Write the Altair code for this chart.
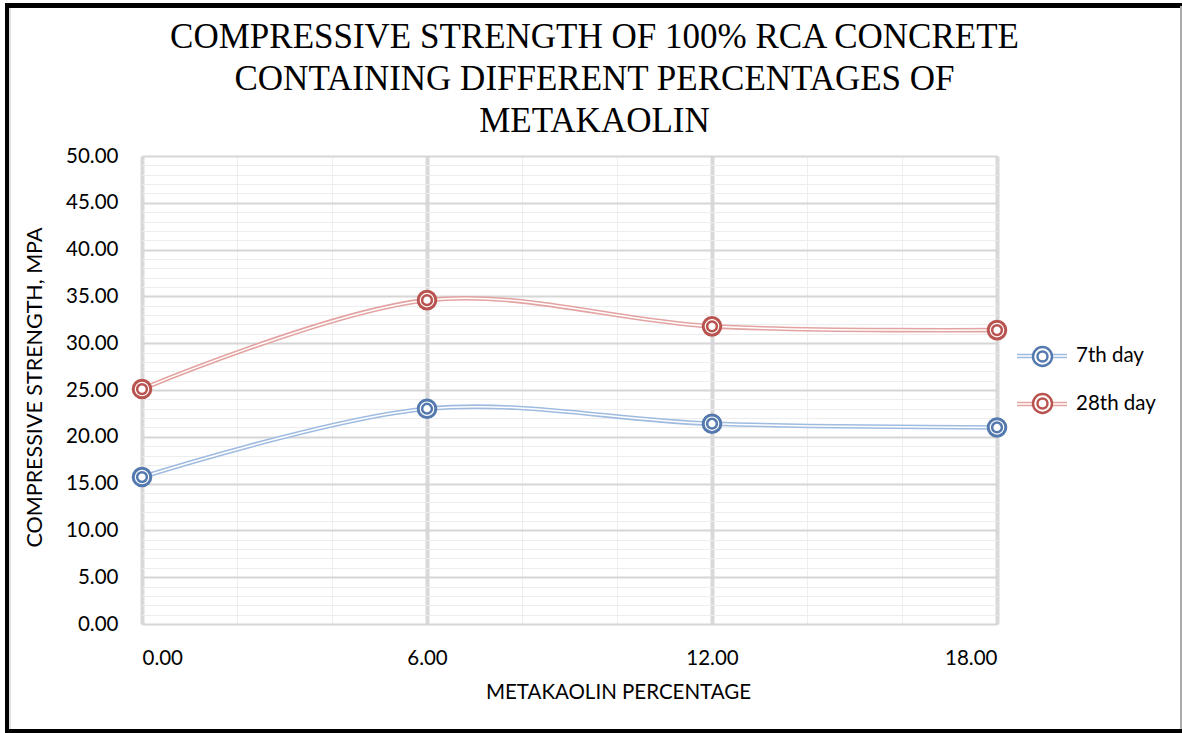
import altair as alt
import pandas as pd

# Metakaolin replacement levels (%) and measured compressive strengths (MPa)
metakaolin_pct = [0.0, 6.0, 12.0, 18.0]
strength_7th = [15.7, 23.0, 21.4, 21.0]
strength_28th = [25.1, 34.6, 31.8, 31.4]
series_names = ["7th day", "28th day"]

line_colors = ["#9FBBE0", "#E3A3A1"]
marker_colors = ["#5479AE", "#B9534F"]

rows = []
for name, vals in zip(series_names, [strength_7th, strength_28th]):
    for x, y in zip(metakaolin_pct, vals):
        rows.append({"pct": x, "strength": y, "series": name, "series_mk": name})
df = pd.DataFrame(rows)

W, H = 855, 468
FONT = "Lato"

x_enc = alt.X(
    "pct:Q",
    scale=alt.Scale(domain=[0, 18], nice=False),
    axis=alt.Axis(
        values=list(range(0, 19, 2)),
        tickCount=40,
        labelExpr="datum.value % 6 === 0 ? format(datum.value, '.2f') : ''",
        labelOverlap=False,
        ticks=False,
        domain=False,
        gridColor="#D9D9D9",
        gridWidth={"condition": {"test": "datum.value % 6 === 0", "value": 4}, "value": 1},
        gridOpacity={"condition": {"test": "datum.value % 6 === 0", "value": 1}, "value": 0.45},
        labelFont=FONT, labelFontSize=20.5, labelColor="#000000", labelPadding=24,
        title="METAKAOLIN PERCENTAGE", titleFont=FONT, titleFontSize=20.5,
        titleFontWeight="normal", titleColor="#000000",
        titleX=476, titleY=68, titleAnchor="start", titleAlign="center",
        titleBaseline="middle",
    ),
)
y_enc = alt.Y(
    "strength:Q",
    scale=alt.Scale(domain=[0, 50], nice=False),
    axis=alt.Axis(
        values=list(range(0, 51, 1)),
        tickCount=100,
        labelExpr="datum.value % 5 === 0 ? format(datum.value, '.2f') : ''",
        labelOverlap=False,
        ticks=False,
        domain=False,
        gridColor={"condition": {"test": "datum.value % 5 === 0", "value": "#D6D6D6"}, "value": "#EDEDED"},
        gridWidth={"condition": {"test": "datum.value % 5 === 0", "value": 1.8}, "value": 1.1},
        labelFont=FONT, labelFontSize=20.5, labelColor="#000000", labelPadding=24,
        title="COMPRESSIVE STRENGTH, MPA", titleFont=FONT, titleFontSize=21.5,
        titleFontWeight="normal", titleColor="#000000",
        titleX=-107, titleY=231, titleAngle=270, titleAnchor="start",
        titleAlign="center", titleBaseline="middle",
    ),
)

line_scale = alt.Scale(domain=series_names, range=line_colors)
mk_scale = alt.Scale(domain=series_names, range=marker_colors)

LEG_X, LEG_Y = 874, 174
line_symbol = "M-1,-0.06H1M-1,0.06H1"
ring_symbol = ("M-0.38,0A0.38,0.38 0 1,1 0.38,0A0.38,0.38 0 1,1 -0.38,0Z"
               "M-0.2,0A0.2,0.2 0 1,1 0.2,0A0.2,0.2 0 1,1 -0.2,0Z")

base = alt.Chart(df)

# double line: a wide coloured stroke with a thin white core
outer = base.mark_line(interpolate="catmull-rom", strokeWidth=4.6).encode(
    x=x_enc, y=y_enc,
    color=alt.Color("series:N", scale=line_scale, sort=series_names,
                    legend=alt.Legend(
                        title=None, orient="none", legendX=LEG_X, legendY=LEG_Y,
                        symbolType=line_symbol, symbolSize=2500, symbolStrokeWidth=1.5,
                        labelFont=FONT, labelFontSize=20.5, labelColor="#000000",
                        labelOffset=8, rowPadding=11, direction="vertical")),
    detail="series:N",
)
core = base.mark_line(interpolate="catmull-rom", strokeWidth=1.5, color="white").encode(
    x="pct:Q", y="strength:Q", detail="series:N",
)

# double-ring markers
ring_outer = base.mark_point(shape="circle", size=310, strokeWidth=3, fill="white",
                             fillOpacity=1, filled=False, opacity=1).encode(
    x="pct:Q", y="strength:Q",
    stroke=alt.Stroke("series_mk:N", scale=mk_scale, sort=series_names,
                      legend=alt.Legend(
                          title=None, orient="none", legendX=LEG_X, legendY=LEG_Y,
                          symbolType=ring_symbol, symbolSize=2500, symbolStrokeWidth=2.4,
                          symbolFillColor="white",
                          labelFont=FONT, labelFontSize=20.5, labelOpacity=0,
                          labelOffset=8, rowPadding=6, direction="vertical")),
)
ring_inner = base.mark_point(shape="circle", size=95, strokeWidth=2.5, filled=False,
                             opacity=1).encode(
    x="pct:Q", y="strength:Q",
    stroke=alt.Stroke("series_mk:N", scale=mk_scale, legend=None),
)

# outer frame of the chart
one = pd.DataFrame({"k": [0]})
frame_left = alt.Chart(one).mark_rule(color="#000000", strokeWidth=4).encode(
    x=alt.value(-135), y=alt.value(-153), y2=alt.value(577))
frame_left_in = alt.Chart(one).mark_rule(color="#BFBFBF", strokeWidth=1).encode(
    x=alt.value(-132), y=alt.value(-150), y2=alt.value(573))
frame_top = alt.Chart(one).mark_rule(color="#000000", strokeWidth=5).encode(
    x=alt.value(-137), x2=alt.value(1040), y=alt.value(-150.5))
frame_bottom = alt.Chart(one).mark_rule(color="#000000", strokeWidth=4).encode(
    x=alt.value(-137), x2=alt.value(1040), y=alt.value(575))
frame_right = alt.Chart(one).mark_rule(color="#ABABAB", strokeWidth=2).encode(
    x=alt.value(1039), y=alt.value(-150), y2=alt.value(573))

chart = alt.layer(
    outer, core, ring_outer, ring_inner,
    frame_left, frame_left_in, frame_top, frame_bottom, frame_right,
).resolve_scale(color="independent", stroke="independent").properties(
    width=W,
    height=H,
    title=alt.TitleParams(
        text=["COMPRESSIVE STRENGTH OF 100% RCA CONCRETE",
              "CONTAINING DIFFERENT PERCENTAGES OF",
              "METAKAOLIN"],
        font="Liberation Serif", fontSize=35, fontWeight="normal", color="#000000",
        anchor="middle", dx=25, dy=158, lineHeight=42, offset=20,
    ),
    padding={"left": 142, "top": 156, "right": 185, "bottom": 109},
    autosize=alt.AutoSizeParams(type="none"),
).configure_view(stroke=None).configure(background="white")

chart.save("out.html", embed_options={"renderer": "svg", "actions": False})
